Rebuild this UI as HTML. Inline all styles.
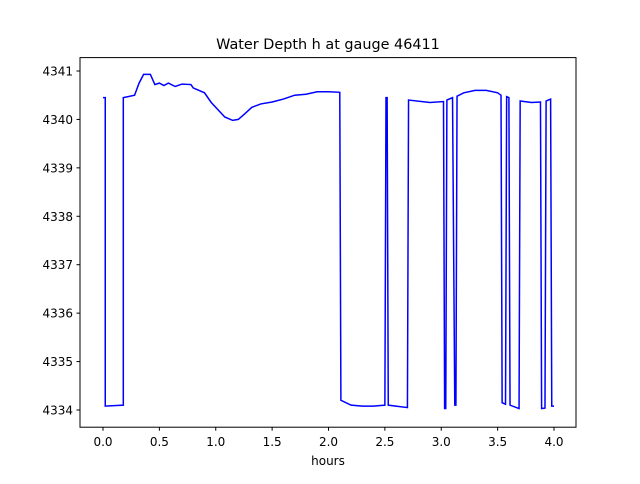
<!DOCTYPE html>
<html><head><meta charset="utf-8"><style>
body{margin:0;background:#fff;font-family:"DejaVu Sans","Liberation Sans",sans-serif}
svg text{font-family:"DejaVu Sans","Liberation Sans",sans-serif;fill:#000}
</style></head><body>
<svg id="chart" width="640" height="480" xmlns="http://www.w3.org/2000/svg">
<rect width="640" height="480" fill="#fff"/>
<text x="328" y="49" font-size="14.4" text-anchor="middle">Water Depth h at gauge 46411</text>
<g id="plot"></g>
<rect x="80" y="57.6" width="496" height="369.6" fill="none" stroke="#000" stroke-width="1"/>
<g id="xt"></g>
<g id="yt"></g>
<text x="328" y="465" font-size="12" text-anchor="middle">hours</text>
</svg>
<script>
const hours=[0.0,0.02,0.02,0.18,0.18,0.28,0.32,0.36,0.42,0.46,0.5,0.54,0.58,0.64,0.7,0.78,0.8,0.9,0.96,1.02,1.08,1.15,1.2,1.26,1.32,1.4,1.5,1.6,1.7,1.8,1.9,2.0,2.1,2.11,2.2,2.3,2.4,2.5,2.51,2.52,2.53,2.7,2.71,2.9,3.02,3.03,3.04,3.05,3.1,3.12,3.13,3.14,3.2,3.3,3.4,3.5,3.53,3.54,3.57,3.58,3.6,3.61,3.69,3.7,3.8,3.88,3.89,3.92,3.93,3.97,3.98,4.0];
const depth=[4340.45,4340.45,4334.08,4334.1,4340.45,4340.5,4340.75,4340.93,4340.93,4340.72,4340.75,4340.7,4340.75,4340.68,4340.73,4340.72,4340.65,4340.55,4340.35,4340.2,4340.05,4339.98,4340.0,4340.12,4340.25,4340.32,4340.36,4340.42,4340.5,4340.52,4340.57,4340.57,4340.56,4334.2,4334.1,4334.08,4334.08,4334.1,4340.45,4340.45,4334.1,4334.05,4340.4,4340.35,4340.37,4334.03,4334.03,4340.4,4340.45,4334.1,4334.1,4340.48,4340.55,4340.6,4340.6,4340.55,4340.5,4334.15,4334.12,4340.47,4340.45,4334.1,4334.03,4340.38,4340.35,4340.36,4334.03,4334.04,4340.38,4340.42,4334.08,4334.08];
const xTicks=[0,0.5,1,1.5,2,2.5,3,3.5,4];
const xTickLabels=["0.0","0.5","1.0","1.5","2.0","2.5","3.0","3.5","4.0"];
const yTicks=[4334,4335,4336,4337,4338,4339,4340,4341];
const yTickLabels=["4334","4335","4336","4337","4338","4339","4340","4341"];
const NS="http://www.w3.org/2000/svg";
const X=v=>103+(v-0)*112.75;
const Y=v=>410-(v-4334)*48.43;
const plot=document.getElementById('plot');
const line=document.createElementNS(NS,'polyline');


line.setAttribute('points',hours.map((h,i)=>X(h).toFixed(2)+','+Y(depth[i]).toFixed(2)).join(' '));
line.setAttribute('fill','none');line.setAttribute('stroke','#0000ff');line.setAttribute('stroke-width','1.5');
plot.appendChild(line);
const xt=document.getElementById('xt');
xTicks.forEach((t,i)=>{
 const l=document.createElementNS(NS,'line');
 
 
 l.setAttribute('x1',X(t));l.setAttribute('x2',X(t));l.setAttribute('y1',427.2);l.setAttribute('y2',430.7);l.setAttribute('stroke','#000');
 xt.appendChild(l);
 const tx=document.createElementNS(NS,'text');
 
 
 tx.setAttribute('x',X(t));tx.setAttribute('y',446);tx.setAttribute('font-size','12');tx.setAttribute('text-anchor','middle');
 tx.textContent=xTickLabels[i];xt.appendChild(tx);
});
const yt=document.getElementById('yt');
yTicks.forEach((t,i)=>{
 const l=document.createElementNS(NS,'line');
 
 
 l.setAttribute('x1',76.5);l.setAttribute('x2',80);l.setAttribute('y1',Y(t));l.setAttribute('y2',Y(t));l.setAttribute('stroke','#000');
 yt.appendChild(l);
 const tx=document.createElementNS(NS,'text');
 
 
 tx.setAttribute('x',73);tx.setAttribute('y',Y(t)+4.5);tx.setAttribute('font-size','12');tx.setAttribute('text-anchor','end');
 tx.textContent=yTickLabels[i];yt.appendChild(tx);
});
</script>
</body></html>
